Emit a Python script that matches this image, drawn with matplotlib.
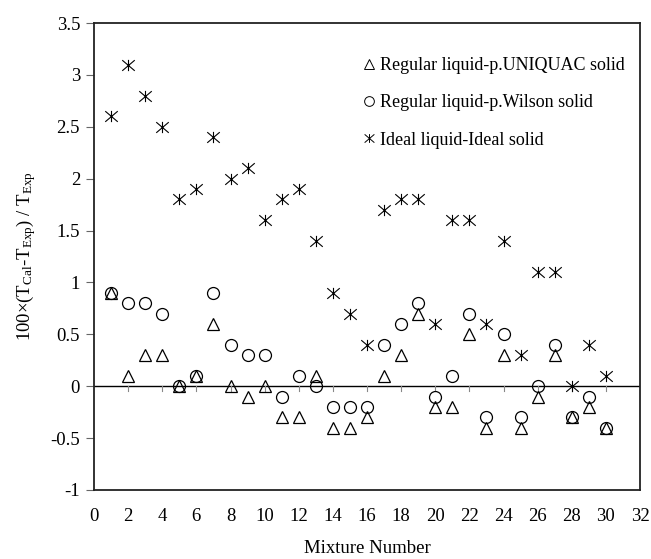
import numpy as np
import matplotlib
matplotlib.use("Agg")
import matplotlib.pyplot as plt
from matplotlib.lines import Line2D
from matplotlib.path import Path

plt.rcParams['font.family'] = ['Liberation Serif', 'DejaVu Serif']
plt.rcParams['mathtext.fontset'] = 'custom'
plt.rcParams['mathtext.rm'] = 'Liberation Serif'
plt.rcParams['mathtext.it'] = 'Liberation Serif'

mixture = list(range(1, 31))
uniquac = [0.9, 0.1, 0.3, 0.3, 0.0, 0.1, 0.6, 0.0, -0.1, 0.0,
           -0.3, -0.3, 0.1, -0.4, -0.4, -0.3, 0.1, 0.3, 0.7, -0.2,
           -0.2, 0.5, -0.4, 0.3, -0.4, -0.1, 0.3, -0.3, -0.2, -0.4]
wilson = [0.9, 0.8, 0.8, 0.7, 0.0, 0.1, 0.9, 0.4, 0.3, 0.3,
          -0.1, 0.1, 0.0, -0.2, -0.2, -0.2, 0.4, 0.6, 0.8, -0.1,
          0.1, 0.7, -0.3, 0.5, -0.3, 0.0, 0.4, -0.3, -0.1, -0.4]
ideal = [2.6, 3.1, 2.8, 2.5, 1.8, 1.9, 2.4, 2.0, 2.1, 1.6,
         1.8, 1.9, 1.4, 0.9, 0.7, 0.4, 1.7, 1.8, 1.8, 0.6,
         1.6, 1.6, 0.6, 1.4, 0.3, 1.1, 1.1, 0.0, 0.4, 0.1]

labels = ["Regular liquid-p.UNIQUAC solid",
          "Regular liquid-p.Wilson solid",
          "Ideal liquid-Ideal solid"]

# excel style asterisk: X with a vertical bar
star = Path([(-1, -0.85), (1, 0.85), (-1, 0.85), (1, -0.85), (0, -0.9), (0, 0.9)],
            [Path.MOVETO, Path.LINETO, Path.MOVETO, Path.LINETO, Path.MOVETO, Path.LINETO])

fig = plt.figure(figsize=(6.51, 5.59), dpi=100)
ax = fig.add_axes([94/651, 1 - 490/559, 546/651, 467/559])

ax.plot(mixture, ideal, linestyle='none', marker=star, ms=9, mfc='none', mec='black', mew=0.8)
ax.plot(mixture, wilson, linestyle='none', marker='o', ms=8.6, mfc='none', mec='black', mew=0.9)
ax.plot(mixture, uniquac, linestyle='none', marker='^', ms=8.8, mfc='none', mec='black', mew=0.9)

ax.axhline(0, color='black', lw=1.0, zorder=1)
for xt in range(2, 32, 2):
    ax.plot([xt, xt], [0, -0.05], color='#888888', lw=0.8, zorder=1)

ax.set_xlim(0, 32)
ax.set_ylim(-1, 3.5)
ax.set_xticks(range(0, 33, 2))
ax.set_yticks(np.arange(-1, 3.51, 0.5))
ax.set_yticklabels(['-1', '-0.5', '0', '0.5', '1', '1.5', '2', '2.5', '3', '3.5'])
ax.tick_params(axis='x', length=0, labelsize=13.5, pad=13)
ax.tick_params(axis='y', length=6, direction='out', labelsize=13.5, color='#666666', pad=4)
for s in ax.spines.values():
    s.set_linewidth(1.3)
    s.set_color('#222222')

ax.set_xlabel("Mixture Number", fontsize=13.5, labelpad=11)
ax.set_ylabel(r"100×(T$_{\mathrm{Cal}}$-T$_{\mathrm{Exp}}$) / T$_{\mathrm{Exp}}$", fontsize=13.5, labelpad=9)

handles = [Line2D([], [], linestyle='none', marker='^', ms=7, mfc='none', mec='black', mew=0.7),
           Line2D([], [], linestyle='none', marker='o', ms=7, mfc='none', mec='black', mew=0.7),
           Line2D([], [], linestyle='none', marker=star, ms=7, mfc='none', mec='black', mew=0.7)]
ax.legend(handles, labels, loc='upper left', bbox_to_anchor=(0.48, 0.943), frameon=False,
          fontsize=13, handlelength=0.6, handletextpad=0.3, labelspacing=1.13, borderaxespad=0)

fig.savefig("out.png", dpi=100)
